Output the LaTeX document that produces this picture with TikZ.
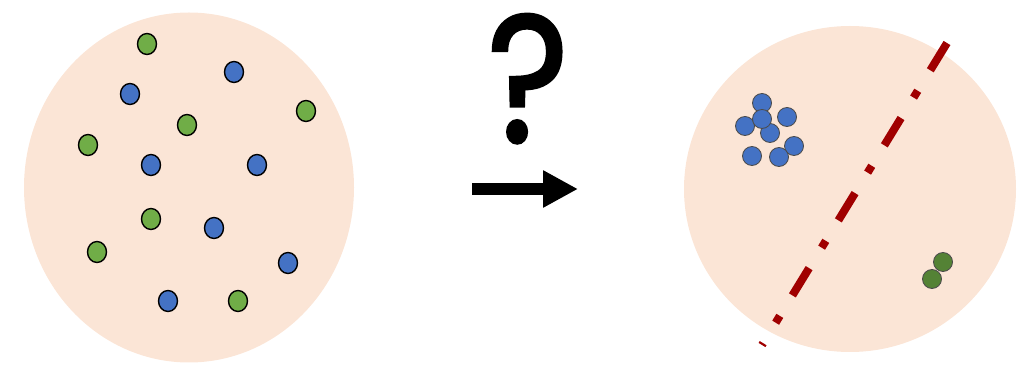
\documentclass[tikz,border=0pt]{standalone}
\usepackage{fontspec}
\usepackage{tikz}
\usetikzlibrary{shapes.geometric, arrows.meta, positioning}
\newfontfamily\qfont[FakeBold=1.8, FakeStretch=0.85]{Poppins}
\definecolor{peach}{RGB}{251,229,214}
\definecolor{dotblue}{RGB}{68,114,196}
\definecolor{dotgreen}{RGB}{112,173,71}
\definecolor{darkgreen}{RGB}{84,130,53}
\definecolor{splitred}{RGB}{160,0,0}

\begin{document}
\begin{tikzpicture}[
    x=0.02cm, y=-0.02cm,
    bdot/.style={ellipse, draw, line width=0.8pt, fill=dotblue,
                 minimum width=19*0.02cm, minimum height=21*0.02cm, inner sep=0pt},
    gdot/.style={ellipse, draw, line width=0.8pt, fill=dotgreen,
                 minimum width=19*0.02cm, minimum height=21*0.02cm, inner sep=0pt},
    cblue/.style={circle, draw=black!70, line width=0.5pt, fill=dotblue,
                  minimum size=19*0.02cm, inner sep=0pt},
    cgreen/.style={circle, draw=black!70, line width=0.5pt, fill=darkgreen,
                   minimum size=19*0.02cm, inner sep=0pt},
    arrow/.style={-{Triangle[length=35*0.02cm, width=35*0.02cm]}, line width=12*0.02cm},
    splitline/.style={splitred, line width=8*0.02cm,
                      dash pattern=on 32*0.02cm off 24*0.02cm on 8*0.02cm off 24*0.02cm},
]
\useasboundingbox (0,0) rectangle (1025,378);
% sets
\fill[peach] (189,187.5) ellipse [x radius=165, y radius=175];
\fill[peach] (850,189) ellipse [x radius=166, y radius=163];
% unlabeled points
\node[gdot] (g1) at (147,44)  {};
\node[bdot] (b1) at (234,72)  {};
\node[bdot] (b2) at (130,94)  {};
\node[gdot] (g2) at (306,111) {};
\node[gdot] (g3) at (187,125) {};
\node[gdot] (g4) at (88,145)  {};
\node[bdot] (b3) at (151,165) {};
\node[bdot] (b4) at (257,165) {};
\node[gdot] (g5) at (151,219) {};
\node[bdot] (b5) at (214,228) {};
\node[gdot] (g6) at (97,252)  {};
\node[bdot] (b6) at (288,263) {};
\node[bdot] (b7) at (168,301) {};
\node[gdot] (g7) at (238,301) {};
% question
\node[font=\qfont\fontsize{103}{103}\selectfont, inner sep=0pt, anchor=base] (q) at (528,142) {?};
\coordinate (arrs) at (472,189);
\coordinate (arre) at (578,189);
\draw[arrow] (arrs) -- (arre);
% clusters
\node[cblue] (c1) at (762,103) {};
\node[cblue] (c2) at (787,117) {};
\node[cblue] (c3) at (745,126) {};
\node[cblue] (c4) at (794,146) {};
\node[cblue] (c5) at (752,156) {};
\node[cblue] (c6) at (779,157) {};
\node[cblue] (c7) at (770,133) {};
\node[cblue] (c8) at (762,119) {};
\node[cgreen] (d1) at (943,262) {};
\node[cgreen] (d2) at (932,279) {};
% boundary
\coordinate (ltop) at (947,43);
\coordinate (lbot) at (762,345);
\draw[splitline] (ltop) -- (lbot);
\end{tikzpicture}
\end{document}
